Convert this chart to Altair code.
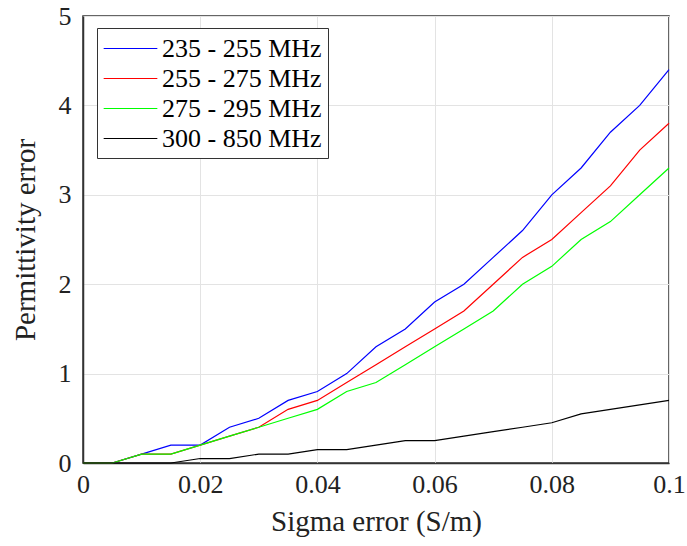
import altair as alt
import pandas as pd

x_vals = [0, 0.005, 0.01, 0.015, 0.02, 0.025, 0.03, 0.035, 0.04, 0.045, 0.05,
          0.055, 0.06, 0.065, 0.07, 0.075, 0.08, 0.085, 0.09, 0.095, 0.1]
series_names = ["235 - 255 MHz", "255 - 275 MHz", "275 - 295 MHz", "300 - 850 MHz"]
s1 = [0, 0, 0.1, 0.2, 0.2, 0.4, 0.5, 0.7, 0.8, 1.0, 1.3, 1.5, 1.8, 2.0, 2.3, 2.6, 3.0, 3.3, 3.7, 4.0, 4.4]
s2 = [0, 0, 0.1, 0.1, 0.2, 0.3, 0.4, 0.6, 0.7, 0.9, 1.1, 1.3, 1.5, 1.7, 2.0, 2.3, 2.5, 2.8, 3.1, 3.5, 3.8]
s3 = [0, 0, 0.1, 0.1, 0.2, 0.3, 0.4, 0.5, 0.6, 0.8, 0.9, 1.1, 1.3, 1.5, 1.7, 2.0, 2.2, 2.5, 2.7, 3.0, 3.3]
s4 = [0, 0, 0, 0, 0.05, 0.05, 0.1, 0.1, 0.15, 0.15, 0.2, 0.25, 0.25, 0.3, 0.35, 0.4, 0.45, 0.55, 0.6, 0.65, 0.7]
colors = ["#0000ff", "#ff0000", "#00ff00", "#000000"]
x_ticks = [0, 0.02, 0.04, 0.06, 0.08, 0.1]
y_ticks = [0, 1, 2, 3, 4, 5]

rows = []
for name, vals in zip(series_names, [s1, s2, s3, s4]):
    for xv, yv in zip(x_vals, vals):
        rows.append({"x": xv, "y": yv, "series": name})
df = pd.DataFrame(rows)

font = "Liberation Serif"

chart = alt.Chart(df).mark_line(strokeWidth=1.2).encode(
    x=alt.X("x:Q", title="Sigma error (S/m)",
            scale=alt.Scale(domain=[0, 0.1], nice=False),
            axis=alt.Axis(values=x_ticks, format="~g", labelFontSize=26,
                          titleFontSize=29, labelPadding=8, titlePadding=10,
                          ticks=False, labelFlush=False,
                          labelFont=font, titleFont=font)),
    y=alt.Y("y:Q", title="Permittivity error",
            scale=alt.Scale(domain=[0, 5], nice=False),
            axis=alt.Axis(values=y_ticks, labelFontSize=26, titleFontSize=29,
                          labelPadding=12, titlePadding=18, ticks=False,
                          labelFont=font, titleFont=font)),
    color=alt.Color("series:N", sort=series_names,
                    scale=alt.Scale(domain=series_names, range=colors),
                    legend=alt.Legend(title=None, orient="none", legendX=14, legendY=12,
                                      symbolType="M-2,0L2,0", symbolSize=720,
                                      symbolStrokeWidth=1.2, symbolOffset=13,
                                      labelFontSize=26, labelOffset=17,
                                      labelFont=font, fillColor="white",
                                      strokeColor="#333333", padding=6,
                                      rowPadding=2, labelLimit=300)),
    order=alt.Order("x:Q"),
).properties(
    width=586, height=447,
    autosize=alt.AutoSizeParams(type="none"),
    padding={"left": 83, "top": 16, "right": 18, "bottom": 83},
).configure(
    font=font
).configure_view(
    stroke="#333333", strokeWidth=1.5
).configure_axis(
    labelColor="#222222", titleColor="#222222",
    titleFontWeight="normal", gridColor="#e3e3e3", domainColor="#333333",
    domainWidth=1.5,
)

chart.save("out.html", embed_options={"renderer": "svg", "actions": False})
